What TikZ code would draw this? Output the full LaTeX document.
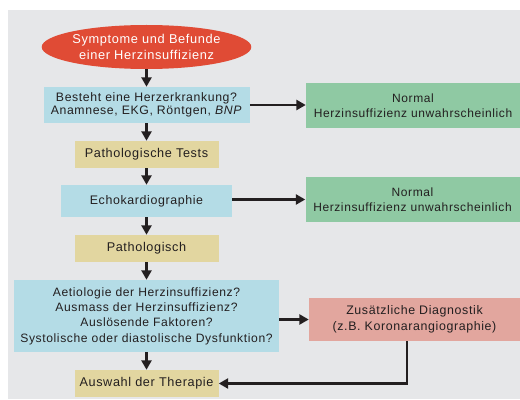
\documentclass[tikz,border=0pt]{standalone}
\usepackage{fontspec}
\setmainfont[LetterSpace=5]{Liberation Sans}
\usetikzlibrary{shapes.geometric,arrows.meta}
\definecolor{bggrey}{HTML}{E6E7E9}
\definecolor{startred}{HTML}{E04B35}
\definecolor{askblue}{HTML}{B4DCE6}
\definecolor{testtan}{HTML}{E2D6A0}
\definecolor{normgreen}{HTML}{8FC9A3}
\definecolor{diagpink}{HTML}{E2A69E}
\definecolor{ink}{HTML}{231F20}

\begin{document}
\begin{tikzpicture}[x=0.75pt,y=-0.75pt,
    box/.style={inner sep=0pt,align=center,text=ink,font=\fontsize{9.3}{11.5}\selectfont},
    ask/.style={box,fill=askblue},
    test/.style={box,fill=testtan,minimum width=108pt,minimum height=20.25pt,font=\fontsize{9.5}{11.5}\selectfont},
    norm/.style={box,fill=normgreen,minimum width=160.5pt,minimum height=33.75pt,font=\fontsize{9}{11.2}\selectfont},
    arr/.style={draw=ink,line width=1.6pt,-{Triangle[length=7pt,width=7.5pt]}}]
        \useasboundingbox (0,0) rectangle (520,399);
        \fill[bggrey] (8,10) rectangle (520,399);
        \node[ellipse,fill=startred,text=white,inner sep=0pt,minimum width=124.5pt,minimum height=33pt,
              align=center,font=\fontsize{9.6}{11.8}\selectfont] (sym) at (146.5,47)
              {Symptome und Befunde\\einer Herzinsuffizienz};
        \node[ask,minimum width=154.5pt,minimum height=27pt,font=\fontsize{9.2}{9.6}\selectfont] (ask) at (146.5,105)
              {Besteht eine Herzerkrankung?\\Anamnese, EKG, Röntgen, \textit{BNP}};
        \node[test] (tests) at (146.5,154.5) {Pathologische Tests};
        \node[ask,minimum width=128.25pt,minimum height=24pt] (echo) at (146.5,201) {Echokardiographie};
        \node[test] (patho) at (146.5,248.5) {Pathologisch};
        \node[ask,minimum width=198.75pt,minimum height=54pt,font=\fontsize{9.1}{11.5}\selectfont] (cause) at (146.5,316)
              {Aetiologie der Herzinsuffizienz?\\Ausmass der Herzinsuffizienz?\\Auslösende Faktoren?\\Systolische oder diastolische Dysfunktion?};
        \node[test] (therapy) at (146.5,383.5) {Auswahl der Therapie};
        \node[norm] (normA) at (413,105.5) {Normal\\Herzinsuffizienz unwahrscheinlich};
        \node[norm] (normB) at (412.5,199.5) {Normal\\Herzinsuffizienz unwahrscheinlich};
        \node[box,fill=diagpink,minimum width=158.25pt,minimum height=32.25pt,font=\fontsize{9.3}{12}\selectfont] (diag) at (414.5,319.5)
              {Zusätzliche Diagnostik\\(z.B. Koronarangiographie)};
        \coordinate (bend) at (407,383.5);
        \foreach \From/\To in {sym/ask, ask/tests, tests/echo, echo/patho, patho/cause, cause/therapy}
        \draw[arr] (\From) -- (\To);
        \draw[arr] (ask.east) -- (ask.east -| normA.west);
        \draw[arr] (normB.west -| echo.east) -- (normB.west);
        \draw[arr] (diag.west -| cause.east) -- (diag.west);
        \draw[arr] (diag.south -| bend) |- (therapy.east);
\end{tikzpicture}
\end{document}
